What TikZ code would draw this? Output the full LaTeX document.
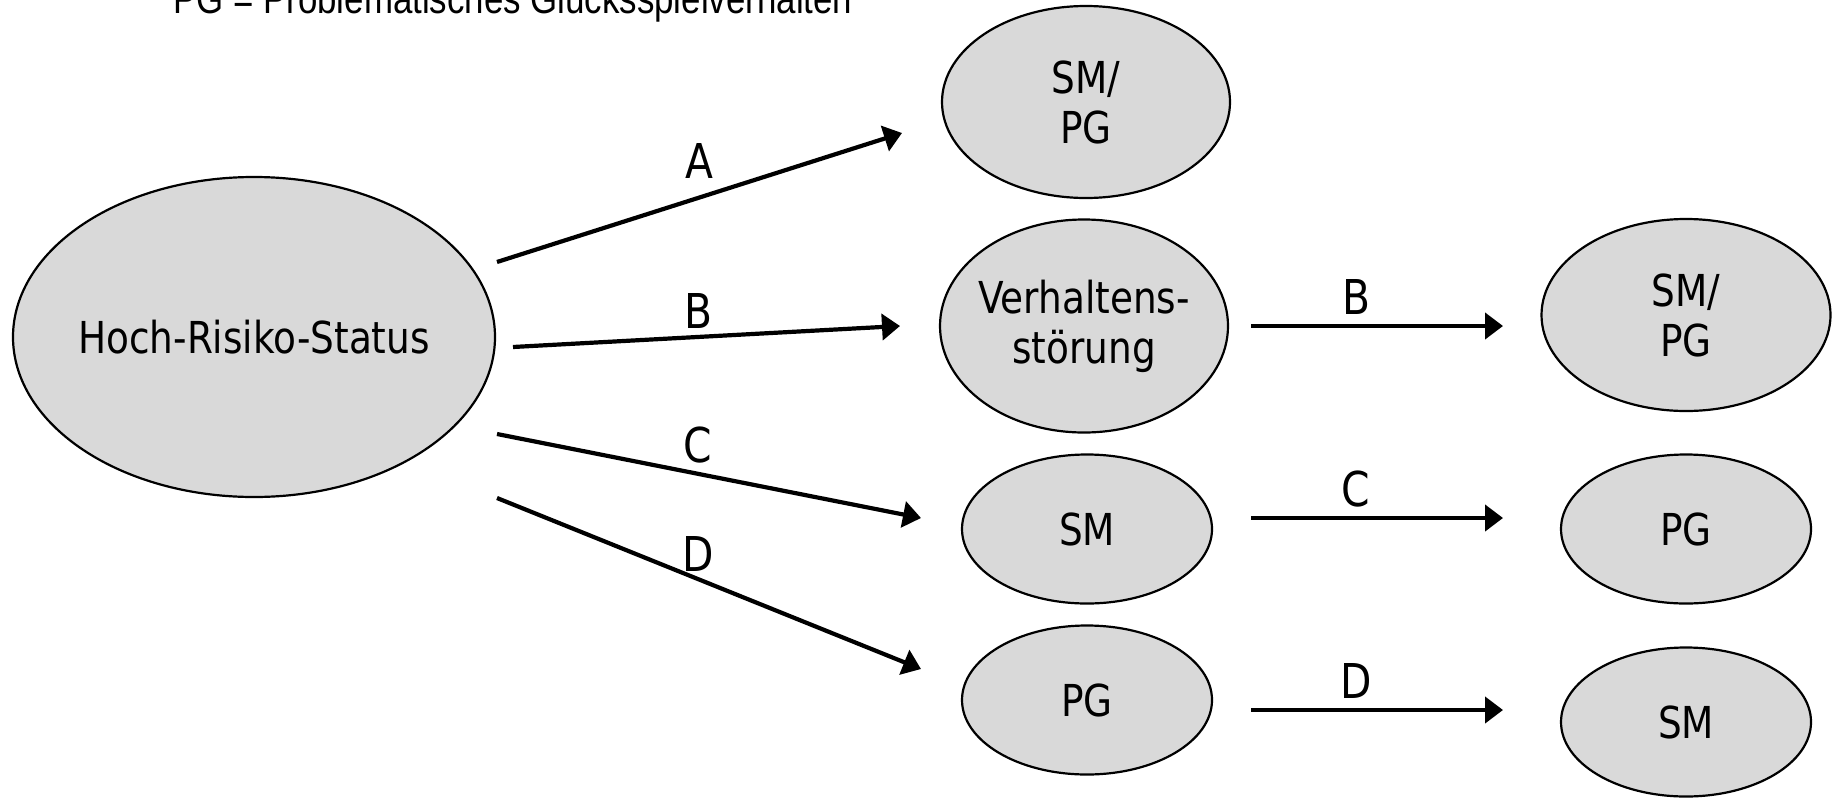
\documentclass[tikz,border=0pt]{standalone}
\usepackage{fontspec}
\setmainfont{DejaVu Sans}[FakeStretch=0.85]
\newfontfamily\notefont{Liberation Sans}[FakeStretch=0.83]
\usetikzlibrary{shapes.geometric,arrows.meta,calc}
\begin{document}
\begin{tikzpicture}[x=1pt,y=-1pt,
  oval/.style={ellipse,draw=black,line width=2.2pt,fill={rgb,255:red,217;green,217;blue,217},inner xsep=-60pt,inner ysep=-20pt,align=center,
    font=\fontsize{44}{50}\selectfont},
  conn/.style={line width=4.2pt,-{Triangle[length=18pt,width=26pt]}},
  lbl/.style={inner sep=0pt,anchor=base,font=\fontsize{48}{54}\selectfont}]
\useasboundingbox (0,0) rectangle (1833,798);
% legend line (cut at top)
\node[inner sep=0pt,anchor=base west,font=\notefont\fontsize{42}{48}\selectfont] (note) at (173,13) {PG = Problematisches Glücksspielverhalten};
% nodes
\node[oval,minimum width=482pt,minimum height=320pt] (hr) at (254,337) {Hoch-Risiko-Status};
\node[oval,minimum width=288pt,minimum height=192pt] (smpgA) at (1086,102) {SM/\\PG};
\node[oval,minimum width=288pt,minimum height=213pt] (vs) at (1084,326) {Verhaltens-\\störung};
\node[oval,minimum width=250pt,minimum height=149pt] (smC) at (1087,529) {SM};
\node[oval,minimum width=250pt,minimum height=149pt] (pgD) at (1087,700) {PG};
\node[oval,minimum width=289pt,minimum height=192pt] (smpgB) at (1686,315) {SM/\\PG};
\node[oval,minimum width=250pt,minimum height=149pt] (pgC) at (1686,529) {PG};
\node[oval,minimum width=250pt,minimum height=149pt] (smD) at (1686,722) {SM};
% connector end points
\coordinate (As) at ($(hr.center)+(243,-75)$);
\coordinate (Ae) at ($(smpgA.center)+(-184,31)$);
\coordinate (Bs) at ($(hr.center)+(259,10)$);
\coordinate (Be) at ($(vs.center)+(-184,0)$);
\coordinate (Cs) at ($(hr.center)+(243,97)$);
\coordinate (Ce) at ($(smC.center)+(-166,-11)$);
\coordinate (Ds) at ($(hr.center)+(243,161)$);
\coordinate (De) at ($(pgD.center)+(-166,-31)$);
\coordinate (B2s) at ($(vs.center)+(167,0)$);
\coordinate (B2e) at ($(smpgB.center)+(-183,11)$);
\coordinate (C2s) at ($(smC.center)+(164,-11)$);
\coordinate (C2e) at ($(pgC.center)+(-183,-11)$);
\coordinate (D2s) at ($(pgD.center)+(164,10)$);
\coordinate (D2e) at ($(smD.center)+(-183,-12)$);
% connectors
\draw[conn] (As) -- (Ae);
\draw[conn] (Bs) -- (Be);
\draw[conn] (Cs) -- (Ce);
\draw[conn] (Ds) -- (De);
\draw[conn] (B2s) -- (B2e);
\draw[conn] (C2s) -- (C2e);
\draw[conn] (D2s) -- (D2e);
% labels
\node[lbl] (lA) at (699,178) {A};
\node[lbl] (lB) at (698,328) {B};
\node[lbl] (lC) at (698,462) {C};
\node[lbl] (lD) at (698,571) {D};
\node[lbl] (lB2) at (1356,314) {B};
\node[lbl] (lC2) at (1356,506) {C};
\node[lbl] (lD2) at (1356,698) {D};
\end{tikzpicture}
\end{document}
